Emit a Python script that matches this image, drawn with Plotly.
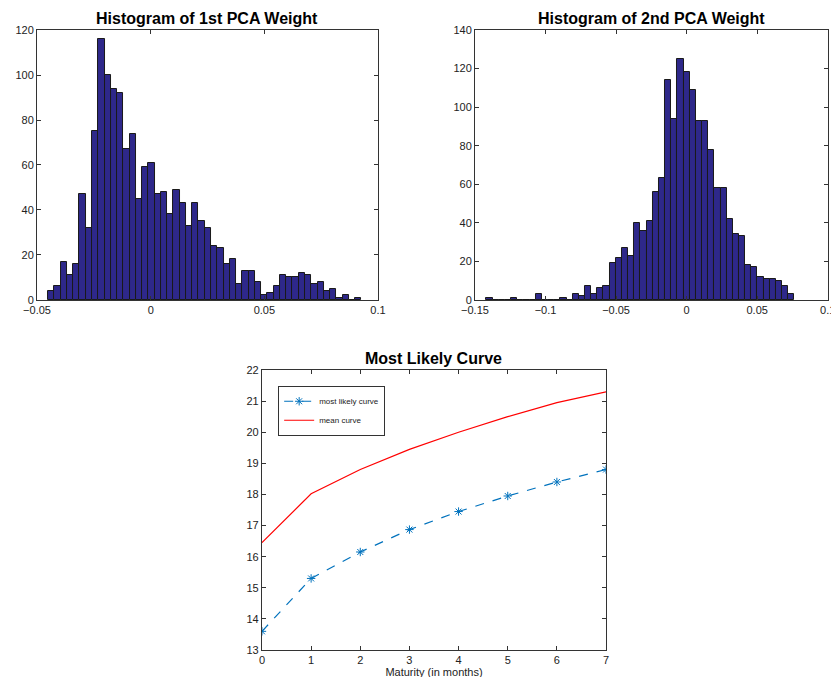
import plotly.graph_objects as go

# histogram 1 (1st PCA weight)
h1_counts = [4, 6, 17, 11, 16, 47, 32, 75, 116, 100, 94, 92, 67, 74, 45, 59, 61, 47, 48, 38,
             49, 43, 33, 43, 35, 32, 24, 23, 16, 18, 7, 13, 13, 8, 2, 3, 6, 11, 10, 10,
             12, 11, 7, 8, 4, 5, 1, 2, 0, 1]
h1_start = -0.0451
h1_width = 0.002756

# histogram 2 (2nd PCA weight)
h2_counts = [1, 0, 0, 0, 1, 0, 0, 0, 3, 0, 0, 0, 1, 0, 3, 2, 7, 3, 6, 7,
             19, 22, 27, 23, 40, 36, 41, 56, 63, 114, 94, 125, 118, 109, 93, 93, 78, 58, 58, 42,
             34, 33, 18, 17, 12, 11, 11, 10, 7, 3]
h2_start = -0.1419
h2_width = 0.004366

# most likely curve
months = [0, 1, 2, 3, 4, 5, 6, 7]
likely_curve = [13.6, 15.3, 16.15, 16.87, 17.45, 17.95, 18.4, 18.8]
mean_curve = [16.45, 18.02, 18.8, 19.45, 20.0, 20.5, 20.95, 21.3]

bar_color = "rgb(46,40,138)"
h1_x = [h1_start + h1_width * (i + 0.5) for i in range(len(h1_counts))]
h2_x = [h2_start + h2_width * (i + 0.5) for i in range(len(h2_counts))]

fig = go.Figure()
fig.add_trace(go.Bar(x=h1_x, y=h1_counts, width=h1_width, marker_color=bar_color,
                     marker_line=dict(color="#1a1a1a", width=1), showlegend=False,
                     xaxis="x", yaxis="y"))
fig.add_trace(go.Bar(x=h2_x, y=h2_counts, width=h2_width, marker_color=bar_color,
                     marker_line=dict(color="#1a1a1a", width=1), showlegend=False,
                     xaxis="x2", yaxis="y2"))
fig.add_trace(go.Scatter(x=months, y=likely_curve, mode="lines+markers", name="most likely curve",
                         line=dict(color="#0072BD", dash="dash", width=1.2),
                         marker=dict(symbol="asterisk-open", size=7, color="#0072BD",
                                     line=dict(color="#0072BD", width=1)),
                         xaxis="x3", yaxis="y3"))
fig.add_trace(go.Scatter(x=months, y=mean_curve, mode="lines", name="mean curve",
                         line=dict(color="red", width=1.2), xaxis="x3", yaxis="y3"))

ax = dict(showline=True, mirror="ticks", linecolor="#333", linewidth=1, ticks="inside",
          ticklen=4, tickcolor="#333", showgrid=False, zeroline=False, automargin=False,
          tickfont=dict(size=11, color="#222"))

fig.update_layout(
    width=839, height=677, margin=dict(l=0, r=0, t=0, b=0, autoexpand=False),
    paper_bgcolor="white", plot_bgcolor="white", bargap=0,
    font=dict(family="Liberation Sans, Arial", color="#222"),
    xaxis=dict(ax, domain=[0.0346, 0.441], range=[-0.05, 0.1], dtick=0.05, anchor="y"),
    yaxis=dict(ax, domain=[0.5687, 0.9675], range=[0, 120], dtick=20, anchor="x"),
    xaxis2=dict(ax, domain=[0.5566, 0.977], range=[-0.15, 0.1], dtick=0.05, anchor="y2"),
    yaxis2=dict(ax, domain=[0.5687, 0.9675], range=[0, 140], dtick=20, anchor="x2"),
    xaxis3=dict(ax, domain=[0.3027, 0.7128], range=[0, 7], dtick=1, anchor="y3",
                title=dict(text="Maturity (in months)", font=dict(size=11), standoff=0)),
    yaxis3=dict(ax, domain=[0.0517, 0.4653], range=[13, 22], dtick=1, anchor="x3"),
    legend=dict(x=0.322, y=0.442, xanchor="left", yanchor="top", bgcolor="white",
                bordercolor="#333", borderwidth=1, font=dict(size=8), tracegroupgap=0,
                itemwidth=30),
    annotations=[
        dict(text="<b>Histogram of 1st PCA Weight</b>", x=0.2375, y=0.969, xref="paper", yref="paper",
             xanchor="center", yanchor="bottom", showarrow=False, font=dict(size=16, color="black")),
        dict(text="<b>Histogram of 2nd PCA Weight</b>", x=0.7665, y=0.969, xref="paper", yref="paper",
             xanchor="center", yanchor="bottom", showarrow=False, font=dict(size=16, color="black")),
        dict(text="<b>Most Likely Curve</b>", x=0.5075, y=0.467, xref="paper", yref="paper",
             xanchor="center", yanchor="bottom", showarrow=False, font=dict(size=16, color="black")),
    ],
)

fig.write_html("out.html")
